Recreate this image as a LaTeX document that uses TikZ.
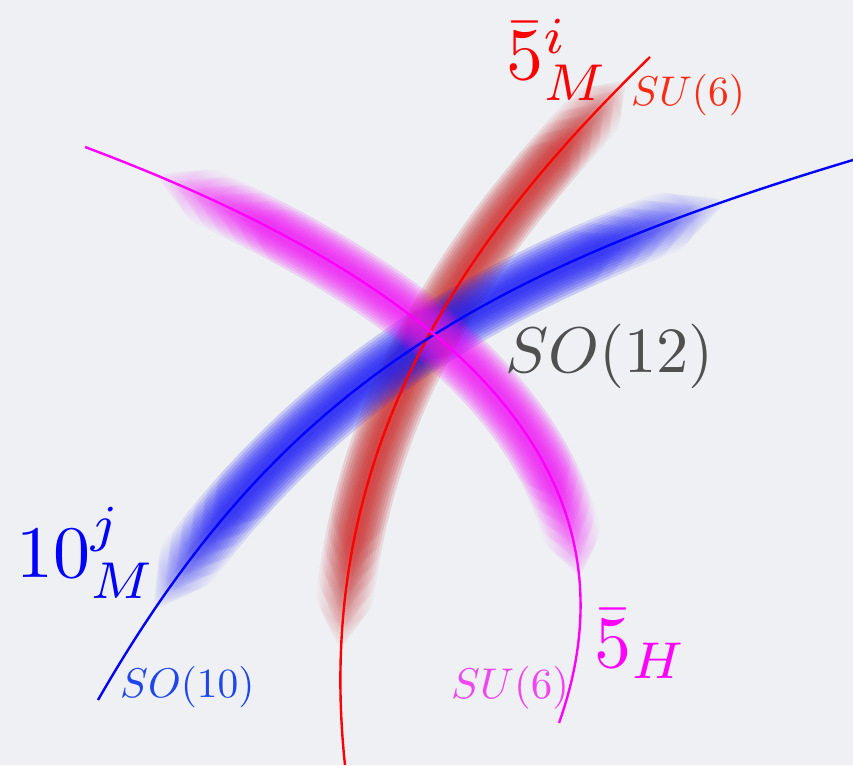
\documentclass[tikz,border=0pt]{standalone}
\definecolor{bg}{RGB}{238,240,244}
\definecolor{redglow}{RGB}{210,50,50}
\definecolor{blueglow}{RGB}{40,40,255}
\definecolor{magglow}{RGB}{250,30,250}
\definecolor{lblgray}{RGB}{80,80,80}
\definecolor{sured}{RGB}{250,45,20}
\definecolor{soblue}{RGB}{30,70,235}
\definecolor{sumag}{RGB}{240,70,240}
\definecolor{linemag}{RGB}{255,0,255}
\begin{document}
\begin{tikzpicture}[x=1pt,y=-1pt,
  declare function={
    rx(\s)=(1-\s)^3*650+3*(1-\s)^2*\s*470.5+3*(1-\s)*\s^2*311+\s^3*345;
    ry(\s)=(1-\s)^3*57+3*(1-\s)^2*\s*231+3*(1-\s)*\s^2*447+\s^3*765;
    mx(\s)=(1-\s)^3*85+3*(1-\s)^2*\s*360+3*(1-\s)*\s^2*665+\s^3*559;
    my(\s)=(1-\s)^3*147+3*(1-\s)^2*\s*250+3*(1-\s)*\s^2*425+\s^3*723;
    bx(\s)=(1-\s)^3*98+3*(1-\s)^2*\s*273+3*(1-\s)*\s^2*469.8+\s^3*853;
    by(\s)=(1-\s)^3*700+3*(1-\s)^2*\s*395.5+3*(1-\s)*\s^2*274.8+\s^3*160;
  },
  curve/.style={line width=2.4pt},
  glowlayer/.style={line cap=round, line join=round},
  lbl/.style={inner sep=0pt, anchor=base west}
]
\useasboundingbox (0,0) rectangle (853,765);
\fill[bg] (0,0) rectangle (853,765);

% glows: grid of layers (width x length) for soft edges and soft ends
\foreach \i in {0,...,9}{
  \foreach \j in {0,...,5}{
    \pgfmathsetmacro\ta{0.11+0.02*\j-0.006*\i}
    \pgfmathsetmacro\tb{0.81-0.02*\j+0.006*\i}
    \pgfmathsetmacro\w{58-5.2*\i}
    \draw[redglow, glowlayer, line width=\w pt, opacity=0.027]
      plot[domain=\ta:\tb, samples=45, variable=\s] ({rx(\s)},{ry(\s)});
  }
}
\foreach \i in {0,...,9}{
  \foreach \j in {0,...,5}{
    \pgfmathsetmacro\ta{0.17+0.02*\j-0.006*\i}
    \pgfmathsetmacro\tb{0.82-0.02*\j+0.006*\i}
    \pgfmathsetmacro\w{62-5.5*\i}
    \draw[blueglow, glowlayer, line width=\w pt, opacity=0.03]
      plot[domain=\ta:\tb, samples=45, variable=\s] ({bx(\s)},{by(\s)});
  }
}
\foreach \i in {0,...,9}{
  \foreach \j in {0,...,5}{
    \pgfmathsetmacro\ta{0.15+0.02*\j-0.006*\i}
    \pgfmathsetmacro\tb{0.76-0.02*\j+0.006*\i}
    \pgfmathsetmacro\w{58-5.2*\i}
    \draw[magglow, glowlayer, line width=\w pt, opacity=0.027]
      plot[domain=\ta:\tb, samples=45, variable=\s] ({mx(\s)},{my(\s)});
  }
}

% curves
\draw[curve, red] (650,57) .. controls (470.5,231) and (311,447) .. (345,765);
\draw[curve, blue] (98,700) .. controls (273,395.5) and (469.8,274.8) .. (853,160);
\draw[curve, linemag] (85,147) .. controls (360,250) and (665,425) .. (559,723);

% labels
\node[lbl, text=red] (fiveM) at (506,80) {\scalebox{7.4}{$\bar{5}^{i}_{M}$}};
\node[lbl, text=sured] (suR) at (631,106) {\scalebox{4.15}{$SU(6)$}};
\node[lbl, text=lblgray] (so12) at (505,372) {\scalebox{6.45}{$SO(12)$}};
\node[lbl, text=blue] (tenM) at (16,577) {\scalebox{7.4}{$10^{j}_{M}$}};
\node[lbl, text=soblue] (so10) at (120,697) {\scalebox{4.15}{$SO(10)$}};
\node[lbl, text=sumag] (suM) at (451,698) {\scalebox{4.3}{$SU(6)$}};
\node[lbl, text=linemag] (fiveH) at (594,667) {\scalebox{7.4}{$\bar{5}_{H}$}};
\end{tikzpicture}
\end{document}
